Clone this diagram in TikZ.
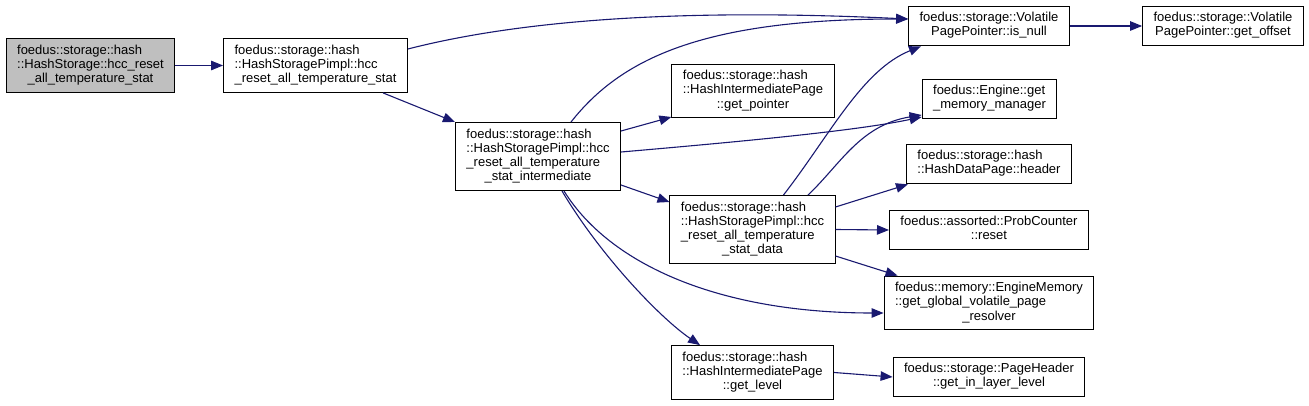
\documentclass[tikz,border=0pt]{standalone}
\usepackage{fontspec}
\setmainfont{Liberation Sans}
\usetikzlibrary{arrows.meta}
\definecolor{edgeblue}{RGB}{25,25,112}
\definecolor{callergray}{RGB}{191,191,191}
\newcommand{\fnlabel}[2]{\begin{tabular}{@{}l@{}}#1\\\multicolumn{1}{@{}c@{}}{#2}\end{tabular}}

\begin{document}
\begin{tikzpicture}[
  x=1pt, y=-1pt,
  fnbox/.style={draw=black, line width=1pt, fill=white, inner xsep=11pt, inner ysep=5.6pt, font=\fontsize{13}{14.2}\selectfont},
  arr/.style={draw=edgeblue, line width=1.1pt, -{Triangle[length=12pt,width=9.5pt]}}
]
\useasboundingbox (0,0) rectangle (1309,406);
\node[fnbox, fill=callergray] (n0) at (90.5,65.5) {\fnlabel{foedus::storage::hash\\::HashStorage::hcc\_reset}{\_all\_temperature\_stat}};
\node[fnbox] (n1) at (315.5,65.5) {\fnlabel{foedus::storage::hash\\::HashStoragePimpl::hcc}{\_reset\_all\_temperature\_stat}};
\node[fnbox] (n2) at (538,156.5) {\fnlabel{foedus::storage::hash\\::HashStoragePimpl::hcc\\\_reset\_all\_temperature}{\_stat\_intermediate}};
\node[fnbox] (isnull) at (989,26) {\fnlabel{foedus::storage::Volatile}{PagePointer::is\_null}};
\node[fnbox] (getoffset) at (1223,26) {\fnlabel{foedus::storage::Volatile}{PagePointer::get\_offset}};
\node[fnbox] (getptr) at (753,91) {\fnlabel{foedus::storage::hash\\::HashIntermediatePage}{::get\_pointer}};
\node[fnbox] (memmgr) at (989.5,99) {\fnlabel{foedus::Engine::get}{\_memory\_manager}};
\node[fnbox] (header) at (989,164) {\fnlabel{foedus::storage::hash}{::HashDataPage::header}};
\node[fnbox] (data) at (752.5,229.5) {\fnlabel{foedus::storage::hash\\::HashStoragePimpl::hcc\\\_reset\_all\_temperature}{\_stat\_data}};
\node[fnbox] (probctr) at (989,230) {\fnlabel{foedus::assorted::ProbCounter}{::reset}};
\node[fnbox] (engmem) at (989,303) {\fnlabel{foedus::memory::EngineMemory\\::get\_global\_volatile\_page}{\_resolver}};
\node[fnbox] (getlevel) at (752.5,372.5) {\fnlabel{foedus::storage::hash\\::HashIntermediatePage}{::get\_level}};
\node[fnbox] (pagehdr) at (989,377) {\fnlabel{foedus::storage::PageHeader}{::get\_in\_layer\_level}};
\draw[arr] (n0.east) -- (n1.west);
\draw[arr] ([yshift=16.5pt]n1.east) .. controls (560,10) and (760,12) .. ([yshift=7pt]isnull.west);
\draw[arr] ([xshift=67.5pt]n1.south) -- (n2.north west);
\draw[arr] ([xshift=33pt]n2.north) .. controls (620,60) and (700,19) .. ([yshift=7pt]isnull.west);
\draw[arr] ([yshift=25.5pt]n2.east) -- ([yshift=-26pt]getptr.west);
\draw[arr] ([yshift=4.5pt]n2.east) .. controls (760,140) and (860,130) .. ([yshift=-18pt]memmgr.west);
\draw[arr] ([yshift=-28.5pt]n2.east) -- ([yshift=27.5pt]data.west);
\draw[arr] ([xshift=26pt]n2.south) .. controls (610,265) and (720,313) .. ([yshift=-10pt]engmem.west);
\draw[arr] ([xshift=24pt]n2.south) .. controls (600,255) and (660,318) .. ([xshift=-52.5pt]getlevel.north);
\draw[arr] ([xshift=31pt]data.north) .. controls (830,135) and (862,70) .. ([xshift=-68pt]isnull.south);
\draw[arr] ([xshift=55.5pt]data.north) .. controls (840,165) and (860,125) .. ([yshift=-16pt]memmgr.west);
\draw[arr] ([yshift=22.5pt]data.east) -- ([xshift=2pt]header.south west);
\draw[arr] (data.east) -- (probctr.west);
\draw[arr] ([yshift=-26.5pt]data.east) -- ([xshift=14pt]engmem.north west);
\draw[arr] (isnull.east) -- (getoffset.west);
\draw[arr] (getlevel.east) -- (pagehdr.west);
\end{tikzpicture}
\end{document}
